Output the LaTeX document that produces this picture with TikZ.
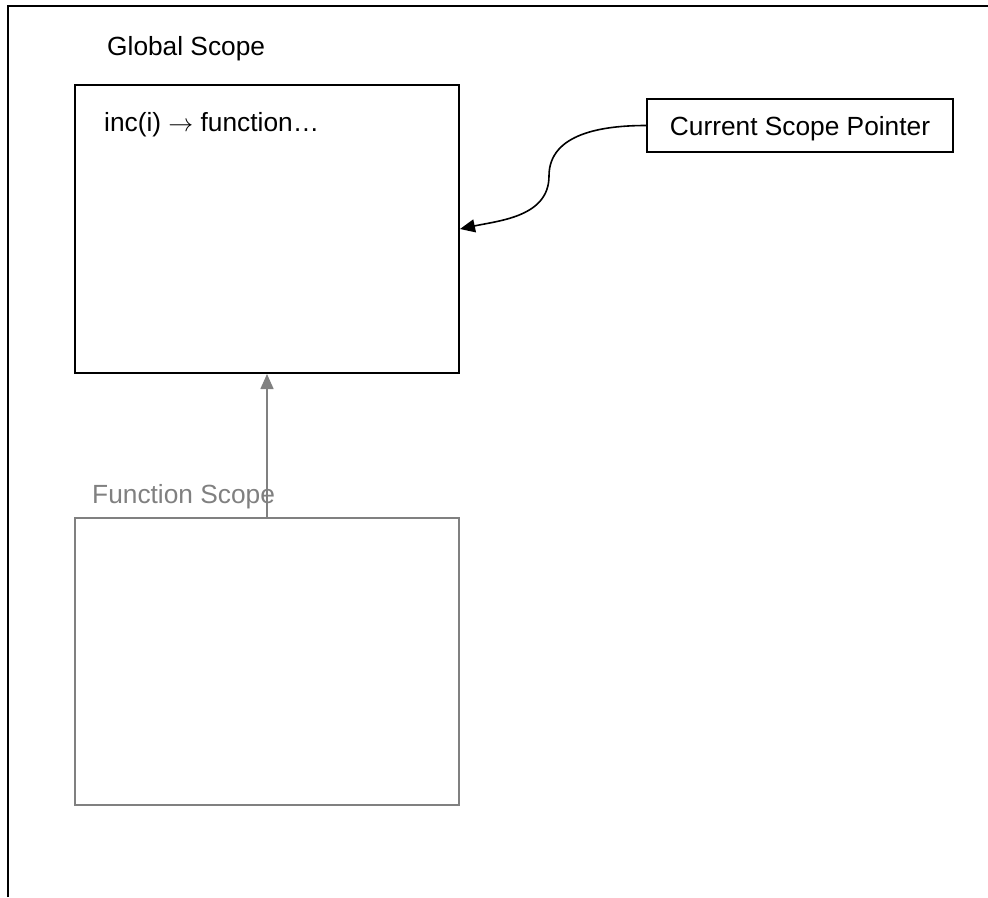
\documentclass[tikz,border=0pt]{standalone}
\usepackage{fontspec}
\setmainfont{Liberation Sans}
\usetikzlibrary{arrows.meta}
\begin{document}
\begin{tikzpicture}[x=1pt,y=-1pt,
    scopebox/.style={draw,line width=2pt,minimum width=384pt,minimum height=288pt,inner sep=0pt},
    label/.style={anchor=base west,inner sep=0pt,font=\fontsize{26.3}{31}\selectfont},
    pointer/.style={-{Triangle[length=15pt,width=13pt]},line width=1.6pt}]
    \useasboundingbox (0,0) rectangle (988,897);
    %frame
    \draw [line width=2pt] (7.5,897) -- (7.5,5.5) -- (988,5.5);
    %scopes
    \node [scopebox] (glob) at (267,229) {};
    \node [scopebox,draw=gray,minimum height=287pt] (fun) at (267,661.5) {};
    \node [label] (globtext) at (107,55) {Global Scope};
    \node [label] (inctext) at (104,131) {inc(i) $\rightarrow$ function…};
    \node [label,text=gray] (funtext) at (92,503) {Function Scope};
    %pointer
    \node [draw,line width=2pt,minimum width=306pt,minimum height=53pt,text depth=0pt,
      font=\fontsize{26.3}{31}\selectfont] (csp) at (800,125.5) {Current Scope Pointer};
    \coordinate (bend) at (549,176);
    \draw [pointer] (csp.west) to[out=180,in=90] (bend) to[out=-90,in=12] (glob.east);
    \draw [pointer,draw=gray,fill=gray] (fun.north) -- (glob.south);
\end{tikzpicture}
\end{document}
